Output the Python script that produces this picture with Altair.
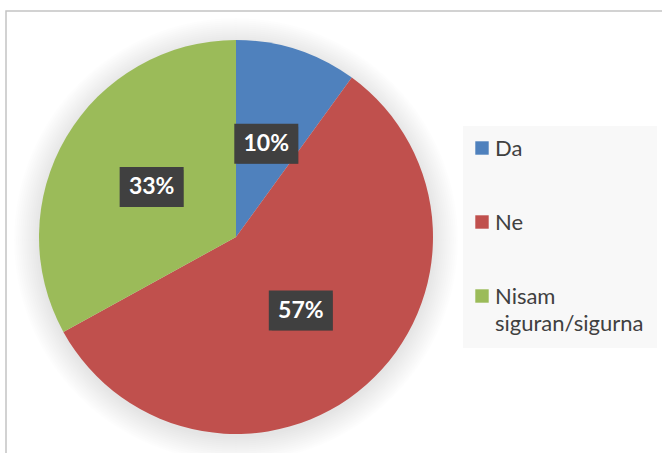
import altair as alt
import pandas as pd

# ---- data ----
categories = ["Da", "Ne", "Nisam siguran/sigurna"]
legend_labels = ["Da", "Ne", "Nisam\nsiguran/sigurna"]
values = [10, 57, 33]
labels = ["10%", "57%", "33%"]
colors = ["#4F81BD", "#C0504D", "#9BBB59"]

df = pd.DataFrame({
    "cat": categories,
    "legend": legend_labels,
    "value": values,
    "label": labels,
    "idx": list(range(len(categories))),
})

# ---- layout constants ----
W, H = 662, 453
CX, CY, R = 236, 237, 197
LR = 98  # label radius

color = alt.Color("cat:N", scale=alt.Scale(domain=categories, range=colors), legend=None)
one = alt.Chart(pd.DataFrame({"a": [0]}))
base = alt.Chart(df)

frame = one.mark_rect(fillOpacity=0, stroke="#c4c4c4", strokeWidth=1.5).encode(
    x=alt.value(6), x2=alt.value(W + 20), y=alt.value(11), y2=alt.value(H + 20)
)

glow_layers = []
for k in range(1, 27, 2):
    glow_layers.append(
        one.mark_arc(theta=0, theta2=6.2832, outerRadius=R + k, color="black", opacity=0.009).encode(
            x=alt.value(CX), y=alt.value(CY + 3)
        )
    )

pie = base.mark_arc(outerRadius=R).encode(
    theta=alt.Theta("value:Q", stack=True),
    color=color,
    order=alt.Order("idx:Q"),
    x=alt.value(CX),
    y=alt.value(CY),
)

lab = base.transform_joinaggregate(total="sum(value)").transform_window(
    cum="sum(value)", sort=[alt.SortField("idx")], frame=[None, 0]
).transform_calculate(
    mid="(datum.cum - datum.value/2) / datum.total * 2 * PI",
    lx=f"{CX} + {LR} * sin(datum.mid)",
    ly=f"{CY} - {LR} * cos(datum.mid)",
    bx1="datum.lx - 32",
    bx2="datum.lx + 32",
    by1="datum.ly - 20",
    by2="datum.ly + 20",
)

box_shadow = lab.mark_rect(color="black", opacity=0.25).encode(
    x=alt.X("bx1:Q", scale=None, axis=None), x2="bx2:Q",
    y=alt.Y("by1:Q", scale=None, axis=None), y2="by2:Q",
    xOffset=alt.value(3), yOffset=alt.value(3),
)
boxes = lab.mark_rect(color="#404040").encode(
    x=alt.X("bx1:Q", scale=None, axis=None), x2="bx2:Q",
    y=alt.Y("by1:Q", scale=None, axis=None), y2="by2:Q",
)
texts = lab.mark_text(font="Lato", fontWeight="bold", fontSize=23, color="white", baseline="middle").encode(
    x=alt.X("lx:Q", scale=None, axis=None),
    y=alt.Y("ly:Q", scale=None, axis=None),
    text="label:N",
)

# ---- legend ----
leg_box = one.mark_rect(color="#f8f8f8").encode(
    x=alt.value(463), x2=alt.value(657), y=alt.value(126), y2=alt.value(348)
)
leg = base.transform_calculate(ly="148 + datum.idx * 74")
leg_sym = leg.mark_square(size=180, opacity=1, shape="square").encode(
    x=alt.value(482), y=alt.Y("ly:Q", scale=None, axis=None), color=color
)
leg_txt = leg.mark_text(
    font="Lato", fontSize=22, color="#404040", align="left", baseline="alphabetic",
    lineBreak="\n", lineHeight=27, dy=8,
).encode(
    x=alt.value(495), y=alt.Y("ly:Q", scale=None, axis=None), text="legend:N"
)

chart = alt.layer(
    frame, *glow_layers, pie, box_shadow, boxes, texts, leg_box, leg_sym, leg_txt
).properties(
    width=W, height=H, autosize="none", padding=0
).configure_view(stroke=None)

chart.save("out.html", embed_options={"renderer": "svg", "actions": False})
